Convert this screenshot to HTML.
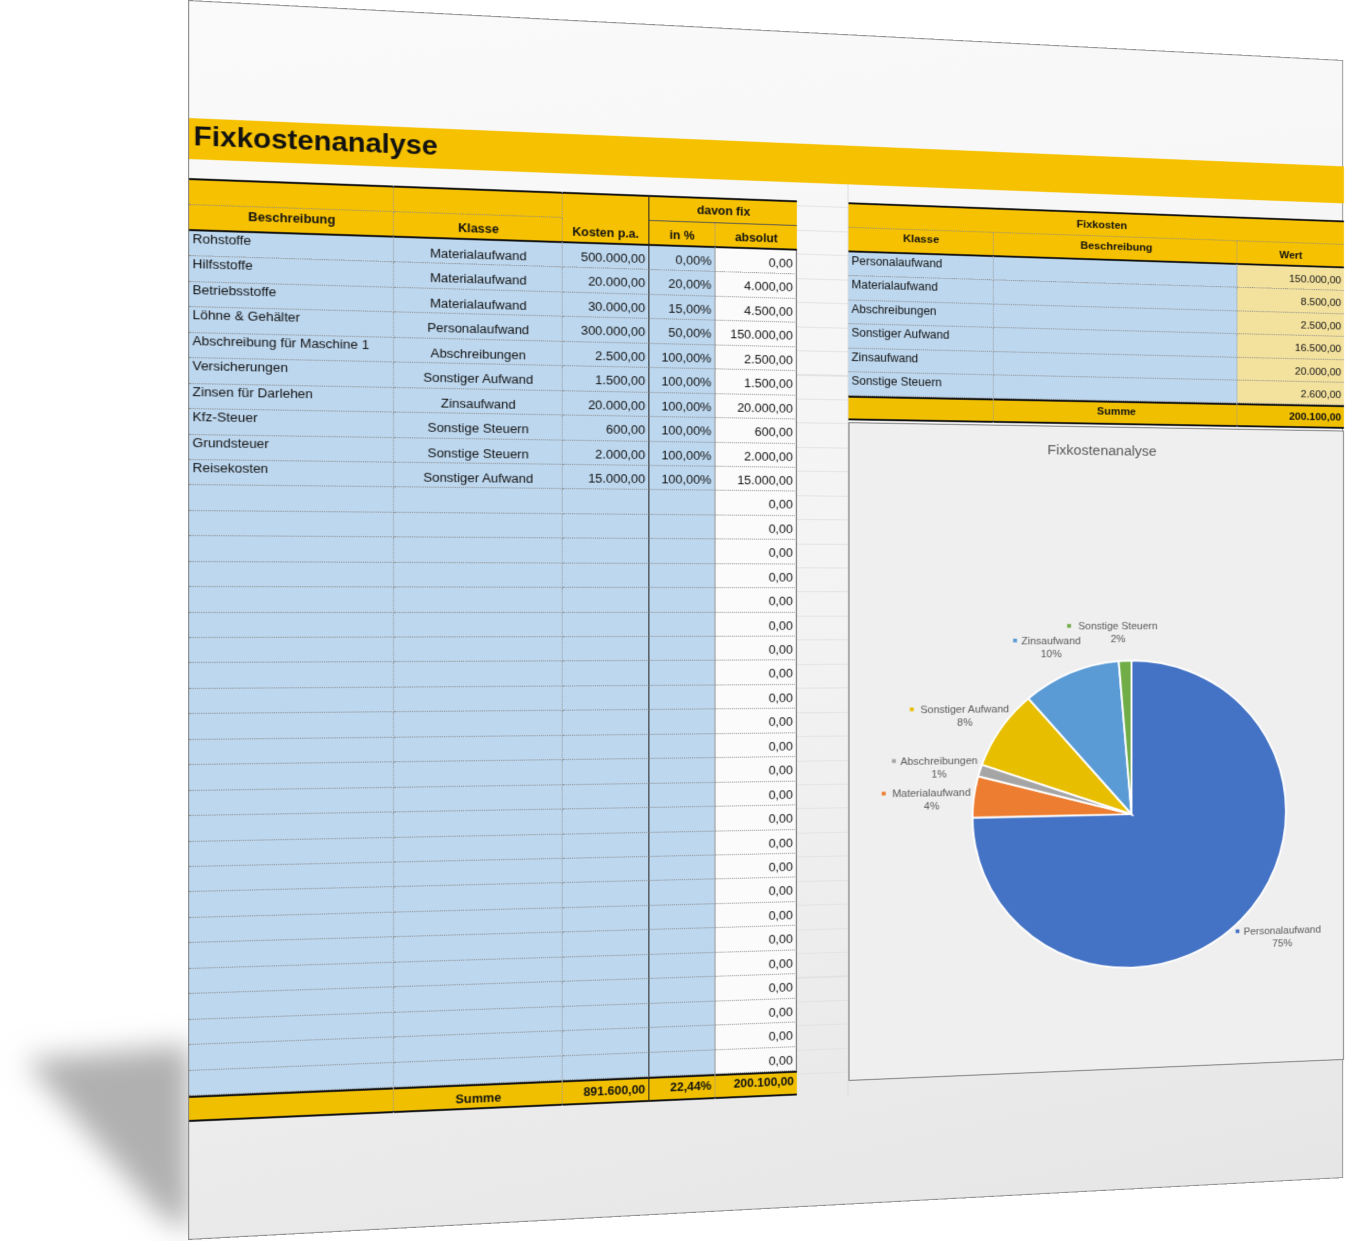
<!DOCTYPE html>
<html><head><meta charset="utf-8">
<style>
html,body{margin:0;padding:0;background:#fff;width:1345px;height:1241px;overflow:hidden;font-family:"Liberation Sans",Arial,sans-serif;}
#shadow{position:absolute;left:0;top:0;}
#page{position:absolute;left:0;top:0;width:1155px;height:1240px;transform-origin:0 0;
transform:matrix3d(1.1269,0.05762,0,0.00009446, 0,1,0,0, 0,0,1,0, 188,0,0,1);
background:linear-gradient(170deg,#fafafa 0%,#f3f3f3 50%,#e6e6e6 100%);border:1.5px solid #8a8a8a;box-sizing:border-box;}
.abs{position:absolute;box-sizing:border-box;}
.cell{position:absolute;box-sizing:border-box;font-size:12.5px;color:#111;white-space:nowrap;overflow:hidden;padding:0 3px;}
.hd{font-weight:bold;font-size:12px;}
</style></head><body>
<svg id="shadow" width="1345" height="1241">
<defs><filter id="b" x="-50%" y="-50%" width="200%" height="200%"><feGaussianBlur stdDeviation="14"/></filter></defs>
<polygon points="25,1060 190,1045 190,1232 160,1215" fill="#b0b0b0" filter="url(#b)"/>
</svg>
<div id="page">
  <div class="abs" style="left:0;top:117px;width:1155px;height:41px;background:#F6C100;"></div>
  <div class="abs" style="left:4px;top:120px;font-size:27px;font-weight:bold;color:#111;">Fixkostenanalyse</div>
  <div class="abs" style="left:578px;top:158px;width:52px;height:965px;border-right:1px solid #ddd;background:repeating-linear-gradient(to bottom,transparent 0,transparent 24.4px,#e2e2e2 24.4px,#e2e2e2 25.44px);"></div>
  <div id="left"></div>
  <div id="right"></div>
  <div class="abs" id="chart" style="left:630px;top:410px;width:525px;height:698px;background:#efefef;border:1.5px solid #777;">
    <svg id="pie" width="525" height="698"></svg>
  </div>
</div>
<script>
// ---- left table data ----
const descriptions=["Rohstoffe","Hilfsstoffe","Betriebsstoffe","Löhne & Gehälter","Abschreibung für Maschine 1","Versicherungen","Zinsen für Darlehen","Kfz-Steuer","Grundsteuer","Reisekosten"];
const classes=["Materialaufwand","Materialaufwand","Materialaufwand","Personalaufwand","Abschreibungen","Sonstiger Aufwand","Zinsaufwand","Sonstige Steuern","Sonstige Steuern","Sonstiger Aufwand"];
const costs=["500.000,00","20.000,00","30.000,00","300.000,00","2.500,00","1.500,00","20.000,00","600,00","2.000,00","15.000,00"];
const percents=["0,00%","20,00%","15,00%","50,00%","100,00%","100,00%","100,00%","100,00%","100,00%","100,00%"];
const absolutes=["0,00","4.000,00","4.500,00","150.000,00","2.500,00","1.500,00","20.000,00","600,00","2.000,00","15.000,00"];
// ---- right table / chart data ----
const fixClasses=["Personalaufwand","Materialaufwand","Abschreibungen","Sonstiger Aufwand","Zinsaufwand","Sonstige Steuern"];
const fixValues=[150000,8500,2500,16500,20000,2600];
const fixValueLabels=["150.000,00","8.500,00","2.500,00","16.500,00","20.000,00","2.600,00"];
const pctLabels=["75%","4%","1%","8%","10%","2%"];
const sliceColors=["#4472C4","#ED7D31","#A5A5A5","#E8BE00","#5B9BD5","#70AD47"];

const ORANGE="#F6C100",BLUE="#BDD7EE",YEL="#F3E19E";
function cell(parent,x,y,w,h,txt,opt){
  const d=document.createElement('div');d.className='cell'+(opt.hd?' hd':'');
  
  
  d.style.left=x+'px';d.style.top=y+'px';d.style.width=w+'px';d.style.height=h+'px';
  d.style.lineHeight=(opt.lh||h)+'px';d.style.textAlign=opt.al||'left';
  if(opt.bg)d.style.background=opt.bg;
  if(opt.bb)d.style.borderBottom=opt.bb;
  if(opt.br)d.style.borderRight=opt.br;
  if(opt.bt)d.style.borderTop=opt.bt;
  if(opt.size)d.style.fontSize=opt.size+'px';
  d.textContent=txt;parent.appendChild(d);return d;
}
const page=document.getElementById('page');
const T=177,H1=27,H2=26,RH=25.44,NR=34;
const dot="1px dotted #888",vdot="1px dotted #999";
const dataTop=T+H1+H2;
cell(page,0,T,578,H1+H2,'',{name:'header-background',bg:ORANGE,bt:'2px solid #111',bb:'2px solid #111'});
cell(page,0,T,188,H1,'',{name:'header-spacer',bb:dot,br:vdot});
cell(page,188,T,160,H1,'',{name:'header-spacer',bb:dot,br:vdot});
cell(page,348,T,84,H1,'',{name:'header-spacer',br:'1px solid #222'});
cell(page,432,T+2,146,H1-2,'davon  fix',{name:'davon-fix-header',hd:1,al:'center',bb:'1px solid #555'});
cell(page,0,T+H1,188,H2,'Beschreibung',{name:'beschreibung-header',hd:1,al:'center',br:vdot,lh:H2-6});
cell(page,188,T+H1,160,H2,'Klasse',{name:'klasse-header',hd:1,al:'center',br:vdot,lh:H2+2});
cell(page,348,T+H1,84,H2,'Kosten p.a.',{name:'kosten-header',hd:1,al:'center',br:'1px solid #222',lh:H2+2});
cell(page,432,T+H1,65,H2,'in %',{name:'prozent-header',hd:1,al:'center',br:vdot,lh:H2+2});
cell(page,497,T+H1,81,H2,'absolut',{name:'absolut-header',hd:1,al:'center',lh:H2+2});
for(let i=0;i<NR;i++){
  const y=dataTop+i*RH;
  cell(page,0,y,188,RH,descriptions[i]||'',{name:'description-cell',inter:1,bg:BLUE,bb:dot,br:vdot,lh:16});
  cell(page,188,y,160,RH,classes[i]||'',{name:'class-cell',inter:1,bg:BLUE,bb:dot,br:vdot,al:'center',lh:RH+6});
  cell(page,348,y,84,RH,costs[i]||'',{name:'cost-cell',inter:1,bg:BLUE,bb:dot,br:'1px solid #222',al:'right',lh:RH+4});
  cell(page,432,y,65,RH,percents[i]||'',{name:'percent-cell',inter:1,bg:BLUE,bb:dot,br:'1px solid #999',al:'right',lh:RH+4});
  cell(page,497,y,81,RH,absolutes[i]||'0,00',{name:'absolute-cell',bg:'#fbfbfb',bb:dot,br:'1.5px solid #666',al:'right',lh:RH+4});
}
const sy=dataTop+NR*RH;
cell(page,0,sy,578,26,'',{name:'sum-row-bg',bg:'#F0C000',bt:'2px solid #111',bb:'2px solid #111'});
cell(page,188,sy,160,26,'Summe',{name:'sum-label',hd:1,al:'center',br:vdot,lh:30});
cell(page,348,sy,84,26,'891.600,00',{name:'sum-cost',hd:1,al:'right',br:'1px solid #222',lh:26});
cell(page,432,sy,65,26,'22,44%',{name:'sum-percent',hd:1,al:'right',br:vdot,lh:24});
cell(page,497,sy,81,26,'200.100,00',{name:'sum-absolute',hd:1,al:'right',lh:22});
cell(page,0,sy,188,26,'',{name:'sum-spacer',br:vdot});
cell(page,630,177,525,53,'',{name:'fix-header-bg',bg:ORANGE,bt:'2px solid #111',bb:'2px solid #111'});
cell(page,630,179,525,25,'Fixkosten',{name:'fixkosten-header',hd:1,al:'center',bb:dot,lh:26,size:11.5});
cell(page,630,204,149,26,'Klasse',{name:'fix-klasse-header',hd:1,al:'center',br:vdot,lh:20,size:11.5});
cell(page,779,204,259,26,'Beschreibung',{name:'fix-beschreibung-header',hd:1,al:'center',br:vdot,lh:22,size:11.5});
cell(page,1038,204,117,26,'Wert',{name:'fix-wert-header',hd:1,al:'center',lh:28,size:11.5});
const frh=25.4;
for(let i=0;i<fixClasses.length;i++){
  const y=230+i*frh;
  cell(page,630,y,149,frh,fixClasses[i],{name:'fix-class-cell',bg:BLUE,bb:dot,br:vdot,lh:18,size:12});
  cell(page,779,y,259,frh,'',{name:'fix-description-cell',inter:1,bg:BLUE,bb:dot,br:vdot});
  cell(page,1038,y,117,frh,fixValueLabels[i],{name:'fix-value-cell',bg:YEL,bb:dot,al:'right',lh:frh+4,size:11.5});
}
const fsy=230+6*frh;
cell(page,630,fsy,525,26,'',{name:'fix-sum-bg',bg:'#F0C000',bt:'2px solid #111',bb:'2px solid #111'});
cell(page,630,fsy,149,26,'',{name:'fix-sum-spacer',br:vdot});
cell(page,779,fsy,259,26,'Summe',{name:'fix-sum-label',hd:1,al:'center',br:vdot,lh:24,size:11.5});
cell(page,1038,fsy,117,26,'200.100,00',{name:'fix-sum-value',hd:1,al:'right',lh:28,size:11.5});

const svg=document.getElementById('pie');const NS='http://www.w3.org/2000/svg';
const cx=293,cy=420,r=167;
const total=fixValues.reduce((a,b)=>a+b,0);
function pt(a,rr){return [cx+rr*Math.sin(a),cy-rr*Math.cos(a)];}
const title=document.createElementNS(NS,'text');

title.setAttribute('x',262);title.setAttribute('y',30);title.setAttribute('text-anchor','middle');
title.setAttribute('font-size','15');title.setAttribute('fill','#595959');title.setAttribute('font-family','Liberation Sans, sans-serif');
title.textContent='Fixkostenanalyse';svg.appendChild(title);
let acc=0;
fixValues.forEach((v,i)=>{
  const a0=acc/total*2*Math.PI;acc+=v;const a1=acc/total*2*Math.PI;
  const p0=pt(a0,r),p1=pt(a1,r);const large=(a1-a0)>Math.PI?1:0;
  const path=document.createElementNS(NS,'path');
  
  
  path.setAttribute('d',`M${cx},${cy} L${p0[0]},${p0[1]} A${r},${r} 0 ${large} 1 ${p1[0]},${p1[1]} Z`);
  path.setAttribute('fill',sliceColors[i]);path.setAttribute('stroke','#fff');path.setAttribute('stroke-width','2');
  svg.appendChild(path);
  const am=(a0+a1)/2;const lp=pt(am,205);
  const lx=lp[0]+(i===0?18:-6), ly=lp[1]+(i===0?-8:6);
  const g=document.createElementNS(NS,'g');
  
  const t1=document.createElementNS(NS,'text');
  t1.setAttribute('x',lx);t1.setAttribute('y',ly-2);t1.setAttribute('text-anchor','middle');
  t1.setAttribute('font-size','11');t1.setAttribute('fill','#595959');t1.setAttribute('font-family','Liberation Sans, sans-serif');
  t1.textContent=fixClasses[i];g.appendChild(t1);
  const w=fixClasses[i].length*5.6;
  const sq=document.createElementNS(NS,'rect');
  sq.setAttribute('x',lx-w/2-9);sq.setAttribute('y',ly-8);sq.setAttribute('width',4);sq.setAttribute('height',4);
  sq.setAttribute('fill',sliceColors[i]);g.appendChild(sq);
  const t2=document.createElementNS(NS,'text');
  t2.setAttribute('x',lx);t2.setAttribute('y',ly+12);t2.setAttribute('text-anchor','middle');
  t2.setAttribute('font-size','11');t2.setAttribute('fill','#595959');t2.setAttribute('font-family','Liberation Sans, sans-serif');
  t2.textContent=pctLabels[i];g.appendChild(t2);
  svg.appendChild(g);
});
</script>
</body></html>
